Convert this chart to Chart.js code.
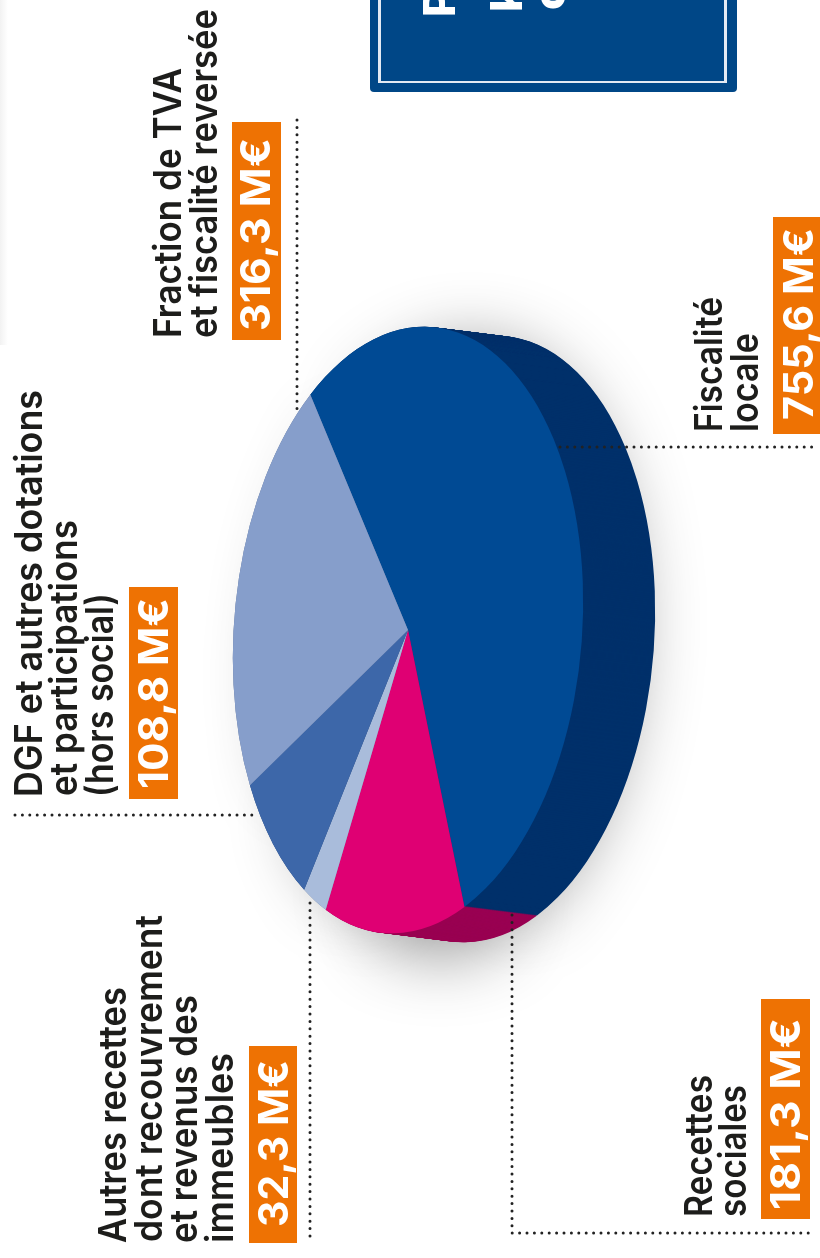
<!DOCTYPE html>
<html lang="fr">
<head>
<meta charset="utf-8">
<title>Recettes</title>
<script src="https://cdn.jsdelivr.net/npm/chart.js@4"></script>
<style>
    html, body { margin: 0; padding: 0; background: #fff; }
    #page { position: relative; width: 820px; height: 1258px; overflow: hidden; }
    #page canvas, #page svg { position: absolute; left: 0; top: 0; }
    #edge { position: absolute; left: 0; top: 0; width: 8px; height: 345px; background: linear-gradient(to right, #f2f2f2, #fff); }
    text { font-family: Inter, "Liberation Sans", sans-serif; }
</style>
</head>
<body>
<div id="page">
    <div id="edge"></div>
    <canvas id="sideChart" width="820" height="1258"></canvas>
    <canvas id="topChart" width="820" height="1258"></canvas>
    <svg id="labels" width="820" height="1258" xmlns="http://www.w3.org/2000/svg"></svg>
</div>
<script>
// Data, clockwise from the first slice
const categories = ['Fiscalité locale', 'Recettes sociales', 'Autres recettes', 'DGF', 'Fraction de TVA'];
const values = [755.6, 181.3, 32.3, 108.8, 316.3];
const topColors = ['#004a94', '#df0073', '#a9bcdb', '#3d67a9', '#869ecb'];
const sideColors = ['#00306a', '#990052', '#6d7f9c', '#2a4a7c', '#5f7296'];

// Label text, same order as values
const labelLines = [
    ['Fiscalité', 'locale'],
    ['Recettes', 'sociales'],
    ['Autres recettes', 'dont recouvrement', 'et revenus des', 'immeubles'],
    ['DGF et autres dotations', 'et participations', '(hors social)'],
    ['Fraction de TVA', 'et fiscalité reversée']
];

// Layout of the labels: [baseline x, bottom y, top y] for each text line
const lineBoxes = [
    [[722, 432, 297], [758, 432, 333]],
    [[712, 1217, 1075], [746, 1217, 1085]],
    [[126, 1243, 987], [162, 1242, 915], [197, 1243, 995], [233, 1243, 1053]],
    [[42, 797, 390], [77, 796, 520], [113, 797, 593]],
    [[181, 338, 68], [217, 338, 9]]
];
// Orange tags: [x, y, w, h], then value text [baseline x, bottom y, top y]
const tagBoxes = [[773, 217, 47, 217], [761, 999, 49, 220], [249, 1046, 48, 197], [129, 587, 49, 212], [232, 122, 49, 218]];
const tagTexts = [[813, 420, 228], [800, 1210, 1018], [288, 1227, 1060], [168, 789, 598], [270, 331, 138]];
// Dotted leaders
const leaders = [
    [[560, 447], [815, 447]],
    [[512, 915], [512, 1233], [812, 1233]],
    [[310, 903], [310, 1243]],
    [[15, 815], [255, 815]],
    [[297, 120], [297, 415]]
];

// The pie is seen in perspective: circle -> tilted ellipse, plus extruded thickness
const centerX = 408, centerY = 630, radiusX = 175, radiusY = 303, skewX = -8, skewY = -14;
const depthX = 72, depthY = 9;

function applyEllipse(chart, dx, dy) {
    const ctx = chart.ctx;
    const arc = chart.getDatasetMeta(0).data[0];
    const r = arc.outerRadius;
    ctx.translate(centerX + dx, centerY + dy);
    ctx.transform(radiusX / r, skewY / r, skewX / r, radiusY / r, 0, 0);
    ctx.translate(-arc.x, -arc.y);
}

const ellipsePlugin = {
    id: 'ellipse',
    beforeDatasetsDraw(chart) {
        chart.ctx.save();
        applyEllipse(chart, 0, 0);
    },
    afterDatasetsDraw(chart) {
        chart.ctx.restore();
    }
};

const extrudePlugin = {
    id: 'extrude',
    beforeDatasetsDraw(chart) {
        // soft shadow under the block
        const ctx = chart.ctx;
        ctx.save();
        ctx.shadowColor = 'rgba(0,0,0,0.45)';
        ctx.shadowBlur = 70;
        ctx.shadowOffsetX = 4;
        ctx.shadowOffsetY = 14;
        applyEllipse(chart, depthX * 0.6, depthY * 0.6);
        chart.getDatasetMeta(0).data.forEach(a => a.draw(ctx));
        ctx.restore();
        ctx.save();
        applyEllipse(chart, 0, 0);
    },
    afterDatasetsDraw(chart) {
        const ctx = chart.ctx;
        ctx.restore();
        for (let i = depthX; i > 0; i--) {
            ctx.save();
            applyEllipse(chart, i, i * depthY / depthX);
            chart.getDatasetMeta(0).data.forEach(a => a.draw(ctx));
            ctx.restore();
        }
    }
};

const leaderPlugin = {
    id: 'leaders',
    afterDraw(chart) {
        const ctx = chart.ctx;
        ctx.save();
        ctx.strokeStyle = '#222';
        ctx.lineWidth = 3;
        ctx.lineCap = 'round';
        ctx.setLineDash([0, 7.4]);
        leaders.forEach(points => {
            ctx.beginPath();
            points.forEach((p, i) => i ? ctx.lineTo(p[0], p[1]) : ctx.moveTo(p[0], p[1]));
            ctx.stroke();
        });
        ctx.restore();
    }
};

function pieConfig(colors, plugins) {
    return {
        type: 'pie',
        data: {
            labels: categories,
            datasets: [{ data: values, backgroundColor: colors, borderWidth: 0 }]
        },
        options: {
            responsive: false,
            animation: false,
            rotation: 323.5,
            plugins: { legend: { display: false }, tooltip: { enabled: false } }
        },
        plugins: plugins
    };
}

new Chart(document.getElementById('sideChart'), pieConfig(sideColors, [extrudePlugin]));
new Chart(document.getElementById('topChart'), pieConfig(topColors, [ellipsePlugin, leaderPlugin]));

// Labels
const svg = document.getElementById('labels');
const NS = 'http://www.w3.org/2000/svg';

function addRect(x, y, w, h, fill, rx) {
    const el = document.createElementNS(NS, 'rect');
    el.setAttribute('x', x);
    el.setAttribute('y', y);
    el.setAttribute('width', w);
    el.setAttribute('height', h);
    el.setAttribute('fill', fill);
    if (rx) el.setAttribute('rx', rx);
    svg.appendChild(el);
}

function addVerticalText(str, box, size, weight, fill) {
    const el = document.createElementNS(NS, 'text');
    el.textContent = str;
    el.setAttribute('transform', `translate(${box[0]},${box[1]}) rotate(-90)`);
    el.setAttribute('font-size', size);
    el.setAttribute('font-weight', weight);
    el.setAttribute('fill', fill);
    if (box[2] !== undefined) {
        el.setAttribute('textLength', box[1] - box[2]);
        el.setAttribute('lengthAdjust', 'spacingAndGlyphs');
    }
    svg.appendChild(el);
}

labelLines.forEach((lines, i) => {
    lines.forEach((line, j) => addVerticalText(line, lineBoxes[i][j], 38, 600, '#1d1d1b'));
});

values.forEach((v, i) => {
    const t = tagBoxes[i];
    addRect(t[0], t[1], t[2], t[3], '#ee7203');
    addVerticalText(v.toFixed(1).replace('.', ',') + ' M€', tagTexts[i], 41, 700, '#fff');
});

// Title box, cropped by the top of the page
addRect(370, -20, 367, 112, '#004787', 4);
addRect(378, -20, 349, 103, '#e4eaf3');
addRect(381, -20, 343, 101, '#004787');
addVerticalText('P', [455, 17], 44, 800, '#fff');
addVerticalText('k', [522, 12], 44, 800, '#fff');
addVerticalText('c', [565, 10], 44, 800, '#fff');
</script>
</body>
</html>
